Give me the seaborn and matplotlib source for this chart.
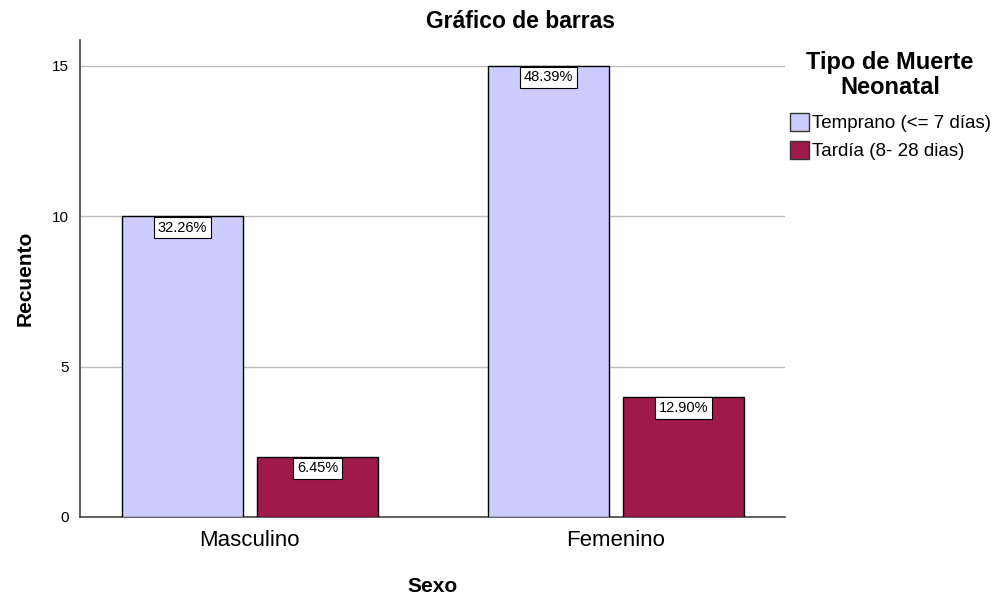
import pandas as pd
import numpy as np
import matplotlib
matplotlib.use("Agg")
import matplotlib.pyplot as plt
from matplotlib.patches import Patch
import seaborn as sns

# Data
sexo = ["Masculino", "Masculino", "Femenino", "Femenino"]
tipo = ["Temprano (<= 7 días)", "Tardía (8- 28 dias)",
        "Temprano (<= 7 días)", "Tardía (8- 28 dias)"]
recuento = [10, 2, 15, 4]
porcentaje = ["32.26%", "6.45%", "48.39%", "12.90%"]

df = pd.DataFrame({"Sexo": sexo, "Tipo": tipo, "Recuento": recuento, "Pct": porcentaje})

sns.set_style("white")
plt.rcParams["font.family"] = ["Liberation Sans", "DejaVu Sans"]
plt.rcParams["text.color"] = "black"
plt.rcParams["axes.labelcolor"] = "black"
plt.rcParams["xtick.color"] = "black"
plt.rcParams["ytick.color"] = "black"

fig = plt.figure(figsize=(9.97, 5.99), dpi=100)
ax = fig.add_axes([80 / 997, 1 - 517 / 599, 705 / 997, 477 / 599])

hue_order = ["Temprano (<= 7 días)", "Tardía (8- 28 dias)"]
palette = {hue_order[0]: "#CCCCFF", hue_order[1]: "#A0194B"}
sns.barplot(data=df, x="Sexo", y="Recuento", hue="Tipo", palette=palette,
            order=["Masculino", "Femenino"], hue_order=hue_order,
            width=0.738, gap=0.104, edgecolor="black", linewidth=1.0,
            saturation=1, ax=ax, zorder=3, legend=False)

ax.set_xlim(-0.464, 1.462)
ax.set_ylim(0, 15.86)
ax.set_yticks([0, 5, 10, 15])
ax.yaxis.grid(True, color="#BDBDBD", linewidth=1, zorder=0)
ax.set_axisbelow(True)
for s in ["top", "right"]:
    ax.spines[s].set_visible(False)
for s in ["left", "bottom"]:
    ax.spines[s].set_color("#444444")
    ax.spines[s].set_linewidth(1.2)
ax.tick_params(axis="y", length=0, labelsize=11, pad=8)
ax.tick_params(axis="x", length=0, labelsize=16, pad=9)

# percentage labels
for cont, labs in zip(ax.containers, [porcentaje[0::2], porcentaje[1::2]]):
    for bar, lab in zip(cont, labs):
        ax.text(bar.get_x() + bar.get_width() / 2, bar.get_height() - 0.38, lab,
                ha="center", va="center", fontsize=10.5, zorder=5,
                bbox=dict(boxstyle="square,pad=0.25", fc="white", ec="black", lw=0.8))

ax.set_xlabel("Sexo", fontsize=15, fontweight="bold")
ax.xaxis.set_label_coords(0.5, -70 / 477)
ax.xaxis.label.set_va("center")
ax.set_ylabel("Recuento", fontsize=15, fontweight="bold")
ax.yaxis.set_label_coords(-55 / 705, 0.5)
ax.yaxis.label.set_va("center")

fig.text(520 / 997, 1 - 22 / 599, "Gráfico de barras", ha="center", va="center",
         fontsize=16.5, fontweight="bold")

# legend
fig.text(890 / 997, 1 - 75 / 599, "Tipo de Muerte\nNeonatal", ha="center", va="center",
         fontsize=17, fontweight="bold", linespacing=1.1)
handles = [Patch(facecolor=palette[h], edgecolor="#333333", linewidth=1.0) for h in hue_order]
fig.legend(handles, hue_order, loc="upper left",
           bbox_to_anchor=(790 / 997, 1 - 113 / 599), frameon=False, fontsize=13.5,
           handlelength=1.0, handleheight=1.1, handletextpad=0.15,
           labelspacing=0.45, borderaxespad=0, borderpad=0)

fig.savefig("out.png", dpi=100)
